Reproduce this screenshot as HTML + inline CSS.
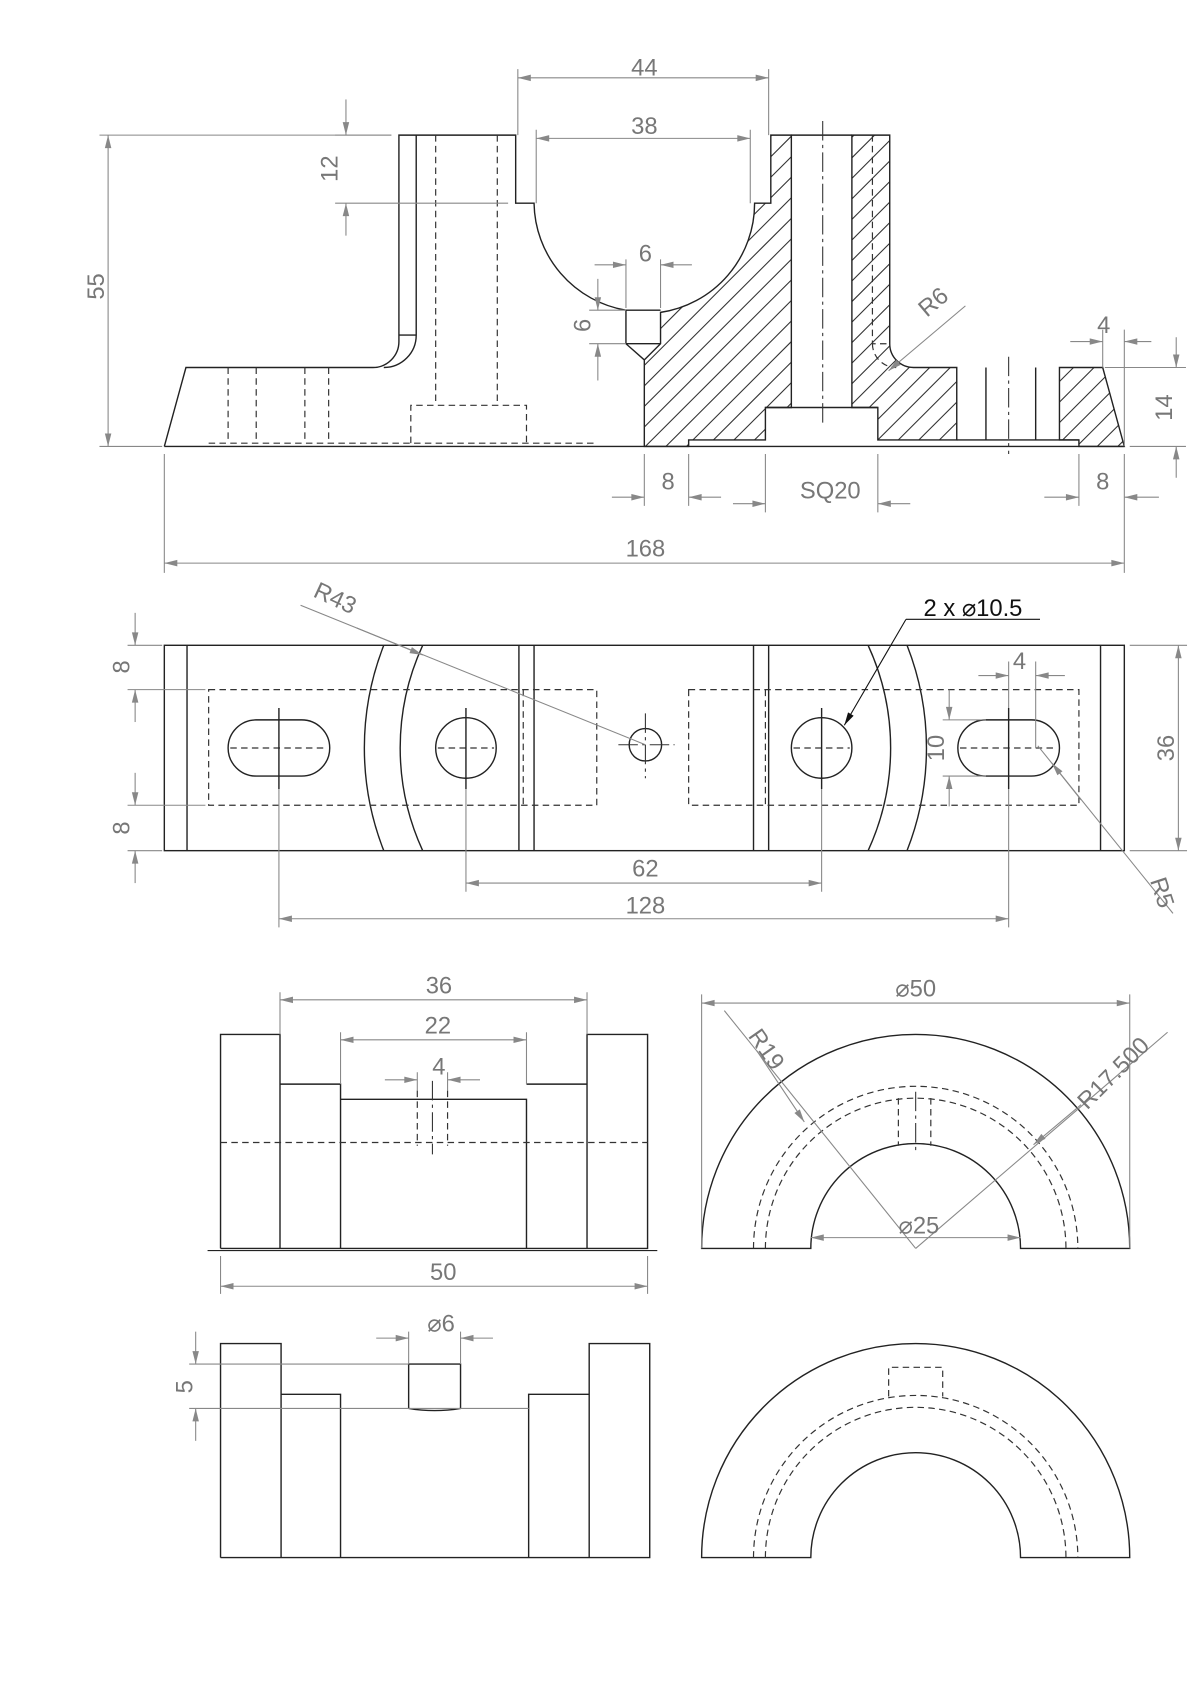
<!DOCTYPE html>
<html><head><meta charset="utf-8"><style>
html,body{margin:0;padding:0;background:#fff;}
svg{display:block;}
.o{fill:none;stroke:#222;stroke-width:1.3;}
.h{fill:none;stroke:#333;stroke-width:1.1;stroke-dasharray:6 4;}
.c{fill:none;stroke:#333;stroke-width:1;stroke-dasharray:18 4 3 4;}
.d{fill:none;stroke:#888;stroke-width:1;}
.a,.a1{fill:none;stroke:#888;stroke-width:1;}
.hl{stroke:#333;stroke-width:1;}
text{font-family:"Liberation Sans",sans-serif;font-size:22px;fill:#777;text-anchor:middle;}
</style></head><body>
<svg id="s" width="1200" height="1697" viewBox="0 0 1110 1570" preserveAspectRatio="none" xmlns="http://www.w3.org/2000/svg">
<g id="hatch"></g>
<path d="M596,413 L596,333 L611,318 L611,289 A102,102 0 0 0 698,188 L713,188 L713,125 L732,125 L732,377 L708,377 L708,407 L637,407 L637,413 Z" class="o"/>
<path d="M788,125 L823,125 L823,318 A22,22 0 0 0 845,340 L885,340 L885,407 L812,407 L812,377 L788,377 Z" class="o"/>
<path d="M980,340 L1020,340 L1040,413 L998,413 L998,407 L980,407 Z" class="o"/>
<path class="o" d="M732,125 L788,125"/>
<path class="o" d="M152,413 L172,340 L345,340 A24,24 0 0 0 369,316 L369,125 L477,125 L477,188 L494,188 A102,102 0 0 0 579,287"/>
<path class="o" d="M385,125 L385,310 A30,30 0 0 1 355,340 M369,310 L385,310"/>
<path class="o" d="M152,413 L1040,413"/>
<path class="o" d="M579,287 L611,287 M579,287 L579,318 L596,333 M579,318 L611,318"/>
<path class="h" d="M403,125 L403,375 M460,125 L460,375 M380,410 L380,375 L487,375 L487,410 M193,410 L552,410 M211,340 L211,410 M237,340 L237,410 M282,340 L282,410 M304,340 L304,410"/>
<path class="h" d="M807,125 L807,318 L823,318 M807,318 A22,22 0 0 0 829,340"/>
<path class="o" d="M708,377 L812,377 M912,340 L912,407 M958,340 L958,407 M885,407 L998,407"/>
<path class="c" d="M761,112 L761,392 M933,330 L933,420"/>
<path class="d" d="M479,125 L479,64 M711,125 L711,64 M496,188 L496,120 M694,188 L694,120"/>
<path class="a" d="M479,72 L711,72"/><text x="596" y="70">44</text>
<path class="a" d="M496,128 L694,128"/><text x="596" y="124">38</text>
<path class="d" d="M310,125 L362,125 M310,188 L470,188"/>
<path class="a1" d="M320,92 L320,125"/><path class="a1" d="M320,218 L320,188"/>
<text transform="translate(312,156) rotate(-90)">12</text>
<path class="d" d="M92,125 L362,125 M92,413 L150,413"/>
<path class="a" d="M100,125 L100,413"/><text transform="translate(96,265) rotate(-90)">55</text>
<path class="d" d="M579,240 L579,285 M611,240 L611,285"/>
<path class="a1" d="M550,245 L579,245"/><path class="a1" d="M640,245 L611,245"/><text x="597" y="242">6</text>
<path class="d" d="M545,287 L579,287 M545,318 L579,318"/>
<path class="a1" d="M553,258 L553,287"/><path class="a1" d="M553,352 L553,318"/>
<text transform="translate(546,301) rotate(-90)">6</text>
<path class="a1" d="M893,283 L822,343"/><text transform="translate(868,285) rotate(-40)">R6</text>
<path class="d" d="M1020,340 L1020,305 M1040,413 L1040,305"/>
<path class="a1" d="M990,316 L1020,316"/><path class="a1" d="M1065,316 L1040,316"/><text x="1021" y="308">4</text>
<path class="d" d="M1022,340 L1097,340 M1045,413 L1097,413"/>
<path class="a1" d="M1088,312 L1088,340"/><path class="a1" d="M1088,442 L1088,413"/>
<text transform="translate(1084,377) rotate(-90)">14</text>
<path class="d" d="M596,420 L596,468 M637,420 L637,468 M708,420 L708,474 M812,420 L812,474 M998,420 L998,468 M1040,420 L1040,530 M152,420 L152,530"/>
<path class="a1" d="M566,460 L596,460"/><path class="a1" d="M667,460 L637,460"/><text x="618" y="453">8</text>
<path class="a1" d="M678,466 L708,466"/><path class="a1" d="M842,466 L812,466"/><text x="768" y="461">SQ20</text>
<path class="a1" d="M966,460 L998,460"/><path class="a1" d="M1072,460 L1040,460"/><text x="1020" y="453">8</text>
<path class="a" d="M152,521 L1040,521"/><text x="597" y="515">168</text>

<rect class="o" x="152" y="597" width="888" height="190"/>
<path class="o" d="M173,597 L173,787 M1018,597 L1018,787 M480,597 L480,787 M494,597 L494,787 M697,597 L697,787 M711,597 L711,787"/>
<path class="o" d="M355,597 A260,260 0 0 0 355,787 M391,597 A227,227 0 0 0 391,787 M839,597 A260,260 0 0 1 839,787 M803,597 A227,227 0 0 1 803,787"/>
<path class="h" d="M193,638 L552,638 L552,745 L193,745 Z M484,638 L484,745 M637,638 L998,638 L998,745 L637,745 Z M708,638 L708,745"/>
<path class="o" d="M237,666 L279,666 A26,26 0 0 1 279,718 L237,718 A26,26 0 0 1 237,666 Z"/>
<path class="o" d="M912,666 L954,666 A26,26 0 0 1 954,718 L912,718 A26,26 0 0 1 912,666 Z"/>
<circle class="o" cx="431" cy="692" r="28"/><circle class="o" cx="760" cy="692" r="28"/><circle class="o" cx="597" cy="689" r="15"/>
<path class="h" d="M213,692 L303,692 M405,692 L457,692 M734,692 L786,692 M888,692 L978,692"/>
<path class="o" d="M258,655 L258,730 M431,655 L431,730 M760,655 L760,730 M933,655 L933,730"/>
<path class="c" d="M572,689 L624,689 M597,660 L597,720"/>
<path class="d" d="M118,597 L150,597 M118,638 L190,638 M118,745 L190,745 M118,787 L150,787 M1045,597 L1098,597 M1045,787 L1098,787"/>
<path class="a1" d="M125,567 L125,597"/><path class="a1" d="M125,668 L125,638"/><text transform="translate(120,617) rotate(-90)">8</text>
<path class="a1" d="M125,715 L125,745"/><path class="a1" d="M125,817 L125,787"/><text transform="translate(120,766) rotate(-90)">8</text>
<path class="a" d="M1090,597 L1090,787"/><text transform="translate(1086,692) rotate(-90)">36</text>
<path class="d" d="M258,730 L258,858 M933,730 L933,858 M431,730 L431,825 M760,730 L760,825"/>
<path class="a" d="M431,817 L760,817"/><text x="597" y="811">62</text>
<path class="a" d="M258,850 L933,850"/><text x="597" y="845">128</text>
<path class="d" d="M278,560 L597,689"/><path class="a1" d="M330,581 L391,606"/>
<text transform="translate(307,560) rotate(25)">R43</text>
<text x="900" y="570" style="fill:#111">2 x  ⌀10.5</text>
<path d="M838,573 L962,573" stroke="#111" stroke-width="1"/>
<path class="ab" d="M838,573 L781,671" stroke="#111" stroke-width="1" fill="none"/>
<path class="d" d="M933,612 L933,655 M958,612 L958,692 M872,666 L912,666 M872,718 L912,718"/>
<path class="a1" d="M905,625 L933,625"/><path class="a1" d="M985,625 L958,625"/><text x="943" y="619">4</text>
<path class="a1" d="M878,638 L878,666"/><path class="a1" d="M878,746 L878,718"/><text transform="translate(873,692) rotate(-90)">10</text>
<path class="d" d="M1085,845 L960,690"/><path class="a1" d="M1000,740 L973,706"/>
<text transform="translate(1068,828) rotate(72)">R5</text>

<path class="o" d="M204,1155 L204,957 L259,957 L259,1155 M259,1003 L315,1003 L315,1155 M315,1017 L487,1017 L487,1155 M487,1003 L543,1003 L543,1155 M543,1003 L543,957 L599,957 L599,1155 L204,1155"/>
<path d="M192,1157 L608,1157" stroke="#222" stroke-width="1"/>
<path class="h" d="M204,1057 L599,1057 M386,1009 L386,1060 M414,1009 L414,1060"/>
<path class="c" d="M400,1000 L400,1068"/>
<path class="d" d="M259,957 L259,918 M543,957 L543,918 M315,1003 L315,955 M487,1003 L487,955 M386,1009 L386,992 M414,1009 L414,992 M204,1162 L204,1197 M599,1162 L599,1197"/>
<path class="a" d="M259,925 L543,925"/><text x="406" y="919">36</text>
<path class="a" d="M315,962 L487,962"/><text x="405" y="956">22</text>
<path class="a1" d="M356,999 L386,999"/><path class="a1" d="M444,999 L414,999"/><text x="406" y="994">4</text>
<path class="a" d="M204,1190 L599,1190"/><text x="410" y="1184">50</text>

<path class="o" d="M649,1155 A198,198 0 0 1 1045,1155 L944,1155 A97,97 0 0 0 750,1155 Z"/>
<path class="h" d="M697,1155 A150,150 0 0 1 997,1155 M708,1155 A139,139 0 0 1 986,1155 M831,1016 L831,1060 M861,1016 L861,1060"/>
<path class="c" d="M847,1010 L847,1068"/>
<path class="d" d="M649,1155 L649,920 M1045,1155 L1045,920"/>
<path class="a" d="M649,928 L1045,928"/><text x="847" y="922">⌀50</text>
<path class="d" d="M670,935 L847,1155"/><path class="a1" d="M700,972 L744,1038"/>
<text transform="translate(703,975) rotate(55)">R19</text>
<path class="d" d="M1080,955 L847,1155"/><path class="a1" d="M1000,1022 L956,1059"/>
<text transform="translate(1035,998) rotate(-45)">R17.500</text>
<path class="a" d="M750,1145 L944,1145"/><text x="850" y="1141">⌀25</text>

<path class="o" d="M204,1441 L204,1243 L260,1243 L260,1441 M260,1290 L315,1290 L315,1441 M489,1441 L489,1290 L545,1290 L545,1441 M545,1290 L545,1243 L601,1243 L601,1441 L204,1441"/>
<path class="o" d="M378,1303 L378,1262 L426,1262 L426,1303 Q402,1307 378,1303"/>
<path class="d" d="M175,1262 L378,1262 M175,1303 L489,1303 M378,1262 L378,1232 M426,1262 L426,1232"/>
<path class="a1" d="M181,1232 L181,1262"/><path class="a1" d="M181,1333 L181,1303"/>
<text transform="translate(178,1283) rotate(-90)">5</text>
<path class="a1" d="M348,1238 L378,1238"/><path class="a1" d="M456,1238 L426,1238"/><text x="408" y="1232">⌀6</text>

<path class="o" d="M649,1441 A198,198 0 0 1 1045,1441 L944,1441 A97,97 0 0 0 750,1441 Z"/>
<path class="h" d="M697,1441 A150,150 0 0 1 997,1441 M708,1441 A139,139 0 0 1 986,1441 M822,1292 L822,1265 L872,1265 L872,1292"/>
</svg>
<script>
(function(){
var NS="http://www.w3.org/2000/svg",s=document.getElementById("s");
function el(t,a,p){var e=document.createElementNS(NS,t);for(var k in a)e.setAttribute(k,a[k]);(p||s).appendChild(e);return e;}
function head(x1,y1,x2,y2,col){var dx=x2-x1,dy=y2-y1,L=Math.sqrt(dx*dx+dy*dy);dx/=L;dy/=L;var px=-dy,py=dx,l=12,w=3;
el("polygon",{points:x2+","+y2+" "+(x2-dx*l+px*w)+","+(y2-dy*l+py*w)+" "+(x2-dx*l-px*w)+","+(y2-dy*l-py*w),fill:col});}
function parse(d){return d.match(/-?[\d.]+/g).map(Number);}
[].forEach.call(document.querySelectorAll("path.a"),function(p){var n=parse(p.getAttribute("d"));head(n[2],n[3],n[0],n[1],"#888");head(n[0],n[1],n[2],n[3],"#888");});
[].forEach.call(document.querySelectorAll("path.a1"),function(p){var n=parse(p.getAttribute("d"));head(n[0],n[1],n[2],n[3],"#888");});
[].forEach.call(document.querySelectorAll("path.ab"),function(p){var n=parse(p.getAttribute("d"));head(n[0],n[1],n[2],n[3],"#111");});
function arcPts(cx,cy,r,a0,a1,n){var o=[];for(var i=0;i<=n;i++){var a=a0+(a1-a0)*i/n;o.push([cx+r*Math.cos(a),cy+r*Math.sin(a)]);}return o;}
var A=Math.acos(15/102);
var polys=[
[[596,413],[596,333],[611,318]].concat(arcPts(596,188,102,A,0,24)).concat([[713,188],[713,125],[732,125],[732,377],[708,377],[708,407],[637,407],[637,413]]),
[[788,125],[823,125]].concat(arcPts(845,318,22,Math.PI,Math.PI/2,10)).concat([[885,340],[885,407],[812,407],[812,377],[788,377]]),
[[980,340],[1020,340],[1040,413],[998,413],[998,407],[980,407]]
];
var g=document.getElementById("hatch");
polys.forEach(function(P){
 for(var c=3;c<2000;c+=19){
  var xs=[];
  for(var i=0;i<P.length;i++){var a=P[i],b=P[(i+1)%P.length];
   var fa=a[0]+a[1]-c,fb=b[0]+b[1]-c;
   if((fa<0)!==(fb<0)){var t=fa/(fa-fb);xs.push(a[0]+t*(b[0]-a[0]));}}
  xs.sort(function(p,q){return p-q;});
  for(var j=0;j+1<xs.length;j+=2){el("line",{x1:xs[j],y1:c-xs[j],x2:xs[j+1],y2:c-xs[j+1],"class":"hl"},g);}
 }
});
})();
</script>
</body></html>
